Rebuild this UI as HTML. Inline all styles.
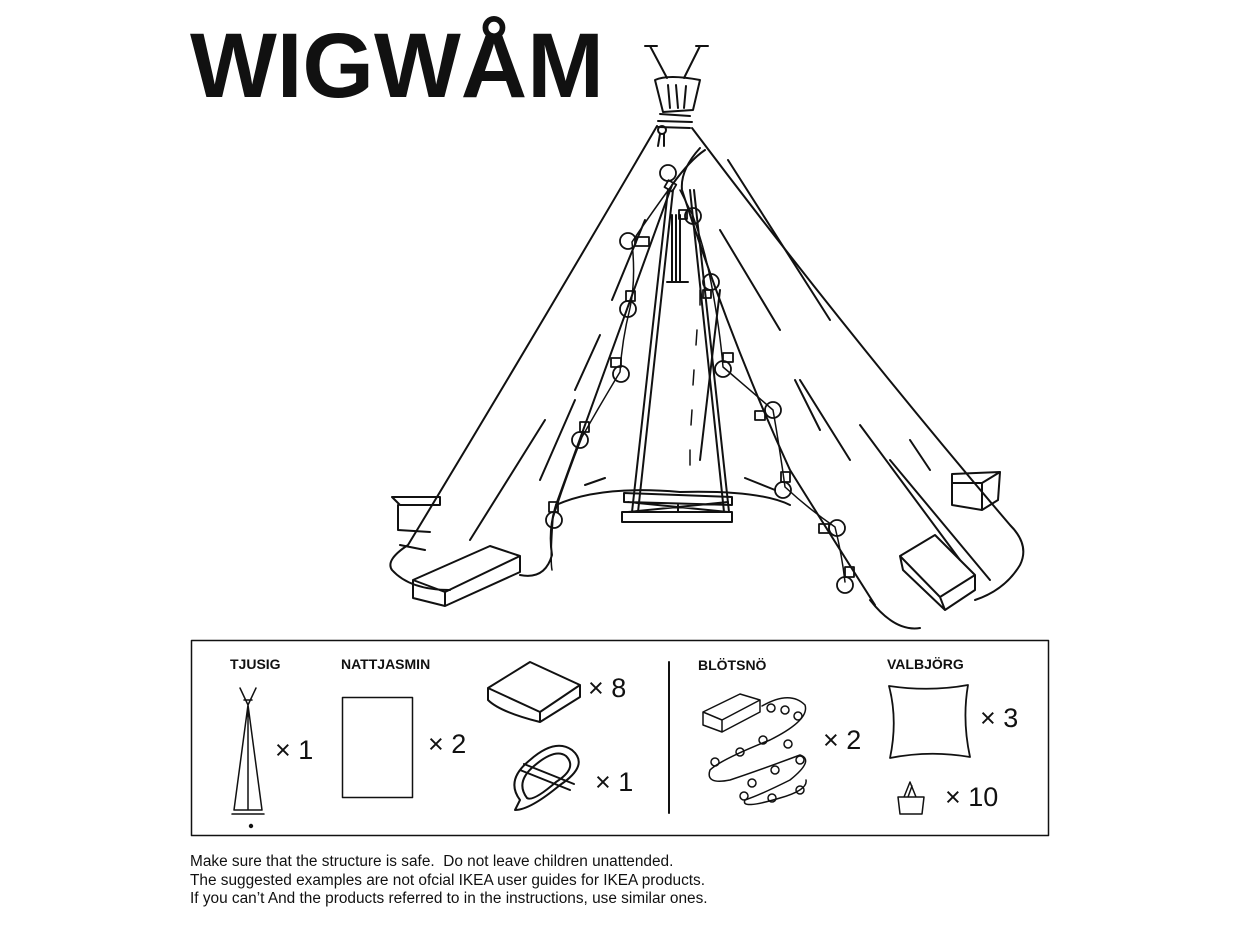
<!DOCTYPE html>
<html><head><meta charset="utf-8"><style>
html,body{margin:0;padding:0;background:#fff;}
body{width:1238px;height:925px;position:relative;overflow:hidden;font-family:"Liberation Sans",sans-serif;}
.t{position:absolute;white-space:nowrap;color:#111;}
.lbl{font-weight:bold;font-size:14px;}
.x{font-size:27px;}
.f{font-size:15.4px;line-height:18.5px;}
</style></head><body>
<div class="t" style="left:190px;top:16px;font-size:92px;font-weight:bold;letter-spacing:0px;line-height:100px;">WIGWÅM</div>

<svg width="1238" height="925" style="position:absolute;left:0;top:0" fill="none" stroke="#111" stroke-width="2" stroke-linecap="round" stroke-linejoin="round">
<path d="M650 46 L667 78 M645 46 L657 46 M700 46 L684 78 M696 46 L708 46"/>
<path d="M655 80 Q668 74 700 80 L693 110 L663 112 Z M668 85 L670 108 M676 85 L678 108 M686 86 L684 108"/>
<path d="M660 114 L690 116 M658 121 L692 122 M658 127 L690 128"/>
<circle cx="662" cy="130" r="4"/><path d="M660 134 L658 146 M664 134 L664 146"/>
<path d="M657 126 Q535 335 408 545 Q385 560 392 570 Q410 590 450 590"/>
<path d="M692 128 Q848 335 1010 525 Q1030 545 1020 565 Q1005 590 975 600"/>
<path d="M520 575 Q545 580 552 555 Q548 530 556 505"/>
<path d="M870 600 Q895 632 920 628"/>
<path d="M705 150 Q690 160 672 185 Q620 330 556 505"/>
<path d="M700 148 Q680 170 682 190 Q730 340 790 470 Q840 550 875 605"/>
<path d="M556 505 Q600 485 680 492 Q760 490 790 505"/>
<path d="M645 220 L612 300 M600 335 L575 390 M545 420 L470 540 M575 400 L540 480 M720 230 L780 330 M728 160 L830 320 M800 380 L850 460 M795 380 L820 430 M860 425 L960 560 M890 460 L990 580 M910 440 L930 470 M400 545 L425 550 M720 290 L700 460 M585 485 L605 478 M745 478 L775 490"/>
<path d="M700 290 L700 305 M697 330 L696 345 M694 370 L693 385 M692 410 L691 425 M690 450 L690 465" stroke-width="1.5"/>
<path d="M668 190 L632 512 M673 190 L638 512 M690 190 L724 512 M694 190 L729 512 M672 215 L672 282 M676 215 L676 282 M680 215 L680 282 M667 282 L688 282"/>
<path d="M624 493 L732 497 L732 505 L624 502 Z M622 512 L732 512 L732 522 L622 522 Z M628 502 L728 512 M628 512 L728 502 M678 505 L678 512"/>
<path d="M392 497 L440 497 L440 505 L400 505 Z M398 505 L398 530 L430 532"/>
<path d="M413 580 L490 546 L520 556 L445 592 Z M413 580 L413 598 L445 606 L520 572 L520 556 M445 592 L445 606"/>
<path d="M952 474 L1000 472 L998 500 L982 510 L952 505 Z M982 483 L1000 472 M982 483 L982 510 M952 483 L982 483"/>
<path d="M900 556 L935 535 L975 575 L940 597 Z M900 556 L903 570 L945 610 L975 590 L975 575 M940 597 L945 610"/>
<path d="M672 185 Q650 215 632 242 Q636 280 630 308 Q622 340 620 372 Q600 405 582 437 Q565 480 553 518 Q550 560 552 570" stroke-width="1.5"/>
<path d="M680 190 Q690 210 693 216 Q705 250 711 282 Q720 330 723 367 Q750 390 773 410 Q780 450 785 487 Q810 510 835 527 Q842 555 845 582" stroke-width="1.5"/>
<g stroke-width="1.8">
<g transform="translate(668,173)"><circle r="8"/><rect x="4" y="6" width="9" height="8" transform="rotate(30)"/></g>
<g transform="translate(693,216)"><circle r="8"/><rect x="-14" y="-6" width="8" height="9"/></g>
<g transform="translate(628,241)"><circle r="8"/><rect x="7" y="-4" width="14" height="9"/></g>
<g transform="translate(711,282)"><circle r="8"/><rect x="-8" y="8" width="8" height="8"/></g>
<g transform="translate(628,309)"><circle r="8"/><rect x="-2" y="-18" width="9" height="10"/></g>
<g transform="translate(621,374)"><circle r="8"/><rect x="-10" y="-16" width="10" height="9"/></g>
<g transform="translate(723,369)"><circle r="8"/><rect x="0" y="-16" width="10" height="9"/></g>
<g transform="translate(773,410)"><circle r="8"/><rect x="-18" y="1" width="10" height="9"/></g>
<g transform="translate(580,440)"><circle r="8"/><rect x="0" y="-18" width="9" height="10"/></g>
<g transform="translate(783,490)"><circle r="8"/><rect x="-2" y="-18" width="9" height="10"/></g>
<g transform="translate(554,520)"><circle r="8"/><rect x="-5" y="-18" width="9" height="10"/></g>
<g transform="translate(837,528)"><circle r="8"/><rect x="-18" y="-4" width="10" height="9"/></g>
<g transform="translate(845,585)"><circle r="8"/><rect x="0" y="-18" width="9" height="10"/></g>
</g>
<rect x="191.5" y="640.5" width="857" height="195" stroke-width="1.5"/>
<path d="M669 662 L669 813" stroke-width="2"/>
<path d="M240 688 L248 705 L234 810 M256 688 L248 705 L262 810 M248 705 L248 810 M234 810 L262 810 M232 814 L264 814 M244 700 L252 700" stroke-width="1.5"/>
<circle cx="251" cy="826" r="1.2" fill="#111"/>
<rect x="342.5" y="697.5" width="70" height="100" stroke-width="1.5"/>
<path d="M488 688 L530 662 L580 685 L540 712 Z M488 688 L488 700 Q500 712 540 722 L580 697 L580 685 M540 712 L540 722"/>
<path d="M520 800 Q505 780 530 760 Q555 738 572 750 Q590 765 560 785 Q530 810 515 810 Z M527 798 Q515 782 534 766 Q555 748 566 756 Q578 768 556 782 Q533 802 527 798 Z M520 770 L570 790 M524 764 L574 784"/>
<path d="M703 712 L740 694 L760 700 L760 712 L722 732 L703 725 Z M703 712 L722 720 L760 700 M722 720 L722 732 M762 706 Q790 690 805 705 Q810 720 770 740 Q720 760 710 770 Q705 785 730 780 Q760 770 800 755 Q815 760 790 780 Q760 795 745 800 Q740 810 780 798 Q808 790 806 780" stroke-width="1.5"/>
<g stroke-width="1.5"><circle cx="771" cy="708" r="4"/><circle cx="785" cy="710" r="4"/><circle cx="798" cy="716" r="4"/><circle cx="763" cy="740" r="4"/><circle cx="740" cy="752" r="4"/><circle cx="715" cy="762" r="4"/><circle cx="788" cy="744" r="4"/><circle cx="800" cy="760" r="4"/><circle cx="775" cy="770" r="4"/><circle cx="752" cy="783" r="4"/><circle cx="744" cy="796" r="4"/><circle cx="772" cy="798" r="4"/><circle cx="800" cy="790" r="4"/></g>
<path d="M889 686 Q930 692 968 685 Q962 720 970 757 Q930 750 890 758 Q898 720 889 686 Z" stroke-width="1.8"/>
<path d="M898 797 L924 797 L922 814 L900 814 Z M904 797 L910 782 L916 797 M908 797 L912 786" stroke-width="1.5"/>
</svg>

<div class="t lbl" style="left:230px;top:656px">TJUSIG</div>
<div class="t lbl" style="left:341px;top:656px">NATTJASMIN</div>
<div class="t lbl" style="left:698px;top:657px">BLÖTSNÖ</div>
<div class="t lbl" style="left:887px;top:656px">VALBJÖRG</div>
<div class="t x" style="left:275px;top:735px">× 1</div>
<div class="t x" style="left:428px;top:729px">× 2</div>
<div class="t x" style="left:588px;top:673px">× 8</div>
<div class="t x" style="left:595px;top:767px">× 1</div>
<div class="t x" style="left:823px;top:725px">× 2</div>
<div class="t x" style="left:980px;top:703px">× 3</div>
<div class="t x" style="left:945px;top:782px">× 10</div>

<div class="t f" style="left:190px;top:853px">Make sure that the structure is safe.&nbsp; Do not leave children unattended.<br>The suggested examples are not ofcial IKEA user guides for IKEA products.<br>If you can’t And the products referred to in the instructions, use similar ones.</div>
</body></html>
